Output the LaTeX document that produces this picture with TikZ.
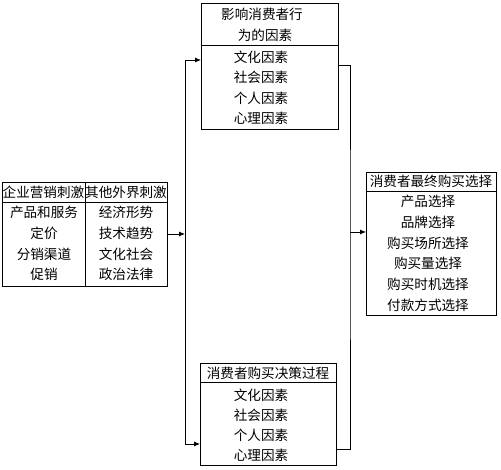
\documentclass[tikz,border=0pt]{standalone}
\usepackage{fontspec}
\newfontfamily\cjk{Noto Sans CJK SC}
\usetikzlibrary{arrows.meta}
\tikzset{
  box/.style={draw, line width=0.8pt, inner sep=0pt, outer sep=0pt, anchor=north west},
  txt/.style={font=\cjk\fontsize{13.6}{15}\selectfont, inner sep=0pt},
  link/.style={line width=0.8pt},
  tip/.style={link, -{Latex[length=6pt,width=5pt]}}
}
\begin{document}
\begin{tikzpicture}[x=1pt,y=-1pt]
    \useasboundingbox (0,0) rectangle (501,470);
    % boxes
    \node[box, minimum width=165pt, minimum height=104pt] (stim) at (2,182) {};
    \node[box, minimum width=137pt, minimum height=126pt] (infl) at (201,3) {};
    \node[box, minimum width=136pt, minimum height=102pt] (proc) at (200,363) {};
    \node[box, minimum width=130pt, minimum height=143pt] (choice) at (366,172) {};
    \draw[link] (2,202) -- (167,202);
    \draw[link] (85,182) -- (85,286);
    \draw[link] (201,45) -- (338,45);
    \draw[link] (200,382) -- (336,382);
    \draw[link] (366,191) -- (496,191);
    % texts
    \node[txt] (stimA) at (43.5,192) {企业营销刺激};
    \node[txt] (stimB) at (126,192) {其他外界刺激};
    \foreach \t [count=\i] in {产品和服务,定价,分销渠道,促销}
        \node[txt] (stimA\i) at (44,192+20.7*\i) {\t};
    \foreach \t [count=\i] in {经济形势,技术趋势,文化社会,政治法律}
        \node[txt] (stimB\i) at (126,192+20.7*\i) {\t};
    \node[txt] (inflA) at (262,14) {影响消费者行};
    \node[txt] (inflB) at (265,35) {为的因素};
    \foreach \t [count=\i] in {文化因素,社会因素,个人因素,心理因素}
        \node[txt] (infl\i) at (261,37+20.3*\i) {\t};
    \node[txt] (procA) at (268,373) {消费者购买决策过程};
    \foreach \t [count=\i] in {文化因素,社会因素,个人因素,心理因素}
        \node[txt] (proc\i) at (261,375+20*\i) {\t};
    \node[txt] (choiceA) at (431,181) {消费者最终购买选择};
    \foreach \t [count=\i] in {产品选择,品牌选择,购买场所选择,购买量选择,购买时机选择,付款方式选择}
        \node[txt] (choice\i) at (428,181+20.7*\i) {\t};
    % connectors
    \coordinate (split) at (185,234);
    \coordinate (merge) at (350,232);
    \draw[tip] (stim.east |- split) -- (split);
    \draw[tip] (split) |- ([yshift=6pt]infl.west);
    \draw[tip] (split) |- ([yshift=-30pt]proc.west);
    \draw[link] ([yshift=1pt]infl.east) -| (merge) |- ([yshift=-35pt]proc.east);
    \draw[tip] (merge) -- (choice.west |- merge);
\end{tikzpicture}
\end{document}
